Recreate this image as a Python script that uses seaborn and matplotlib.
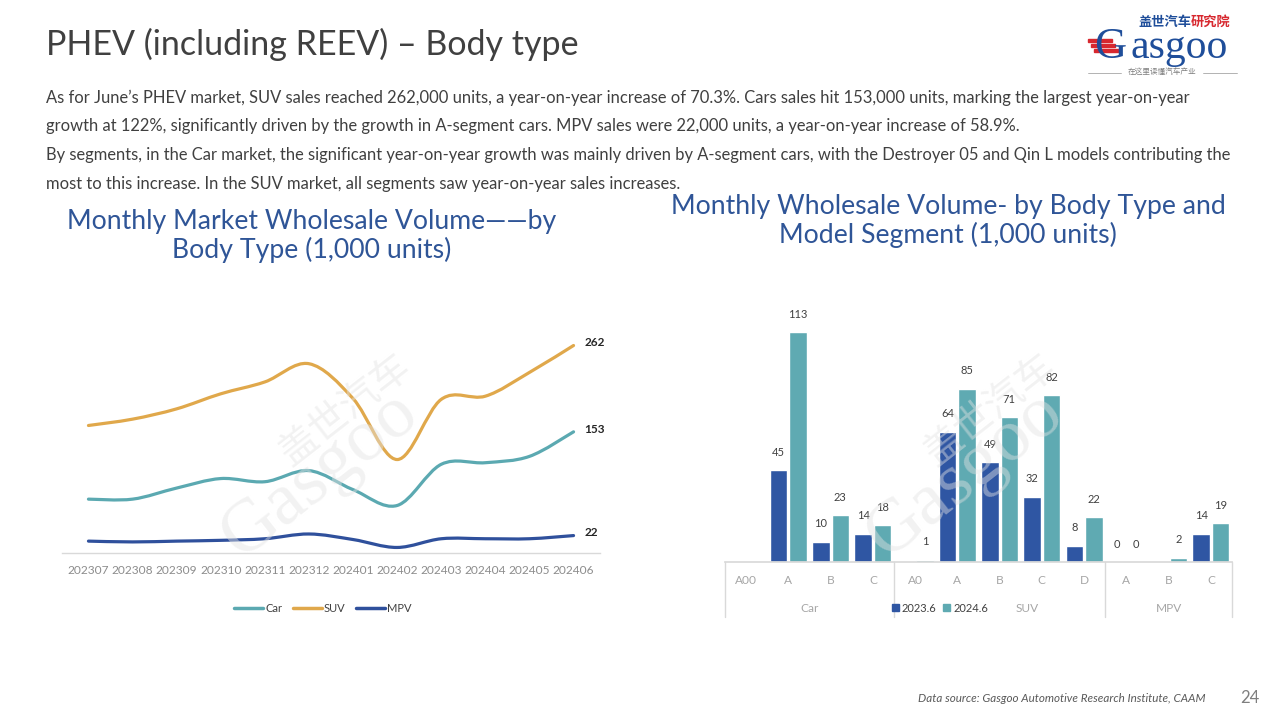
import numpy as np
import pandas as pd
import matplotlib
matplotlib.use("Agg")
import matplotlib.pyplot as plt
import seaborn as sns
from matplotlib.path import Path
from matplotlib.patches import PathPatch, Rectangle
from matplotlib.lines import Line2D
import matplotlib.transforms as mtransforms

# ---- data ----
months = ["202307", "202308", "202309", "202310", "202311", "202312",
          "202401", "202402", "202403", "202404", "202405", "202406"]
car = [68, 68, 82, 94, 90, 104, 80, 60, 112, 114, 122, 153]
suv = [161, 169, 182, 201, 216, 239, 195, 118, 194, 198, 228, 262]
mpv = [15, 14, 15, 16, 18, 24, 17, 7, 18, 18, 18, 22]

body_types = ["Car", "Car", "Car", "Car", "SUV", "SUV", "SUV", "SUV", "SUV", "MPV", "MPV", "MPV"]
segments = ["A00", "A", "B", "C", "A0", "A", "B", "C", "D", "A", "B", "C"]
vol_2023 = [np.nan, 45, 10, 14, np.nan, 64, 49, 32, 8, 0, np.nan, 14]
vol_2024 = [np.nan, 113, 23, 18, 1, 85, 71, 82, 22, 0, 2, 19]

C_TEAL = "#5BA9B1"
C_GOLD = "#E0A84B"
C_NAVY = "#2F509C"
C_BAR1 = "#2F56A3"
C_BAR2 = "#5FAAB2"
C_TITLE = "#2F5597"
FONT = "Lato"

sns.set_theme(style="white")
plt.rcParams["font.family"] = [FONT, "Noto Sans CJK SC", "DejaVu Sans"]

fig = plt.figure(figsize=(12.8, 7.2), dpi=100)
W, H = 1280, 720


def fx(px):
    return px / W


def fy(py):
    return 1 - py / H


# ---- page text ----
fig.text(fx(46), fy(44), "PHEV (including REEV) – Body type", fontsize=24.5,
         color="#404040", va="center", ha="left")
para = [
    "As for June’s PHEV market, SUV sales reached 262,000 units, a year-on-year increase of 70.3%. Cars sales hit 153,000 units, marking the largest year-on-year",
    "growth at 122%, significantly driven by the growth in A-segment cars. MPV sales were 22,000 units, a year-on-year increase of 58.9%.",
    "By segments, in the Car market, the significant year-on-year growth was mainly driven by A-segment cars, with the Destroyer 05 and Qin L models contributing the",
    "most to this increase. In the SUV market, all segments saw year-on-year sales increases.",
]
for i, line in enumerate(para):
    fig.text(fx(46), fy(98 + i * 28.5), line, fontsize=11.9, color="#404040",
             va="center", ha="left")

fig.text(fx(312), fy(236), "Monthly Market Wholesale Volume——by\nBody Type (1,000 units)",
         fontsize=19.2, color=C_TITLE, ha="center", va="center", linespacing=1.12)
fig.text(fx(948), fy(221), "Monthly Wholesale Volume- by Body Type and\nModel Segment (1,000 units)",
         fontsize=19.2, color=C_TITLE, ha="center", va="center", linespacing=1.12)

fig.text(fx(1205), fy(698), "Data source: Gasgoo Automotive Research Institute, CAAM",
         fontsize=8.35, style="italic", color="#595959", ha="right", va="center")
fig.text(fx(1250), fy(698), "24", fontsize=12, color="#7f7f7f", ha="center", va="center")

# logo
fig.text(fx(1138), fy(22), "盖世汽车", fontsize=9.5, color="#1F4E9A", weight="bold",
         family=["Noto Sans CJK SC"], ha="left", va="center")
fig.text(fx(1191), fy(22), "研究院", fontsize=9.5, color="#D7282F", weight="bold",
         family=["Noto Sans CJK SC"], ha="left", va="center")
for k in range(3):
    fig.patches.append(Rectangle((fx(1088 + k * 3), fy(42 + k * 5)), fx(24), 3 / H,
                                 transform=fig.transFigure, color="#D7282F"))
fig.text(fx(1094), fy(58), "G", fontsize=32, color="#1F4E9A",
         family=["Liberation Serif"], ha="left", va="baseline")
fig.text(fx(1130), fy(58), "asgoo", fontsize=30, color="#1F4E9A",
         family=["Liberation Serif"], ha="left", va="baseline")
fig.text(fx(1162), fy(73), "在这里读懂汽车产业", fontsize=5.5, color="#7f7f7f",
         family=["Noto Sans CJK SC"], ha="center", va="center")
fig.lines.append(Line2D([fx(1088), fx(1121)], [fy(73)] * 2, transform=fig.transFigure,
                        color="#a6a6a6", lw=0.6))
fig.lines.append(Line2D([fx(1203), fx(1237)], [fy(73)] * 2, transform=fig.transFigure,
                        color="#a6a6a6", lw=0.6))

# ---- left: line chart ----
ax1 = fig.add_axes([fx(62), fy(553), fx(600 - 62), 237.6 / H])
ax1.patch.set_alpha(0)
x = np.arange(len(months))
series = [("Car", car, C_TEAL), ("SUV", suv, C_GOLD), ("MPV", mpv, C_NAVY)]


def smooth_path(xs, ys):
    # Excel-style smoothed line through the data points
    pts = np.column_stack([xs, ys]).astype(float)
    n = len(pts)
    verts = [pts[0]]
    codes = [Path.MOVETO]
    for i in range(n - 1):
        p0 = pts[max(i - 1, 0)]
        p1 = pts[i]
        p2 = pts[i + 1]
        p3 = pts[min(i + 2, n - 1)]
        c1 = p1 + (p2 - p0) / 6
        c2 = p2 - (p3 - p1) / 6
        verts += [c1, c2, p2]
        codes += [Path.CURVE4] * 3
    return Path(verts, codes)


for name, vals, col in series:
    ax1.add_patch(PathPatch(smooth_path(x, vals), facecolor="none", edgecolor=col,
                            lw=2.3, capstyle="round", joinstyle="round"))
    ax1.annotate(str(vals[-1]), (x[-1], vals[-1]), xytext=(8, 2), textcoords="offset points",
                 fontsize=8.5, weight="bold", color="#262626", ha="left", va="center")

ax1.set_xlim(-0.6, 11.6)
ax1.set_ylim(0, 300)
ax1.set_xticks(x, months)
ax1.set_yticks([])
ax1.tick_params(axis="x", length=0, pad=9, labelsize=8.6, labelcolor="#8c8c8c")
sns.despine(ax=ax1, left=True)
ax1.spines["bottom"].set_color("#d9d9d9")
ax1.spines["bottom"].set_linewidth(1)

handles = [Line2D([], [], color=c, lw=2.5) for _, _, c in series]
fig.legend(handles, [s[0] for s in series], loc="center", bbox_to_anchor=(fx(323), fy(608)),
           ncol=3, frameon=False, fontsize=8, handlelength=2.6, handletextpad=0.15,
           columnspacing=1.0, labelcolor="#404040")

# ---- right: grouped bars ----
slots = [f"{b}|{s}" for b, s in zip(body_types, segments)]
df = pd.DataFrame({
    "slot": slots * 2,
    "year": ["2023.6"] * len(slots) + ["2024.6"] * len(slots),
    "value": vol_2023 + vol_2024,
})
ax2 = fig.add_axes([fx(725), fy(562), fx(1232 - 725), 264.6 / H])
ax2.patch.set_alpha(0)
sns.barplot(data=df.dropna(), x="slot", y="value", hue="year", order=slots,
            hue_order=["2023.6", "2024.6"], palette=[C_BAR1, C_BAR2],
            width=0.92, gap=0.1, ax=ax2, legend=False, saturation=1)
for cont in ax2.containers:
    ax2.bar_label(cont, fmt="%d", padding=9, fontsize=8, color="#404040")
ax2.set_xlim(-0.5, 11.5)
ax2.set_ylim(0, 130)
ax2.set_xlabel("")
ax2.set_ylabel("")
ax2.set_yticks([])
ax2.set_xticks(range(len(slots)), segments)
ax2.tick_params(axis="x", length=0, pad=9, labelsize=8.6, labelcolor="#a6a6a6")
sns.despine(ax=ax2, left=True)
ax2.spines["bottom"].set_color("#d9d9d9")

trans = mtransforms.blended_transform_factory(ax2.transData, ax2.transAxes)
for xb in [-0.5, 3.5, 8.5, 11.5]:
    ax2.plot([xb, xb], [0, -0.208], transform=trans, color="#d9d9d9", lw=1, clip_on=False)
for lab, xc in [("Car", 1.5), ("SUV", 6.65), ("MPV", 10.0)]:
    ax2.text(xc, -0.174, lab, transform=trans, fontsize=8.6, color="#a6a6a6",
             ha="center", va="center")

bar_handles = [Rectangle((0, 0), 1, 1, color=C_BAR1), Rectangle((0, 0), 1, 1, color=C_BAR2)]
fig.legend(bar_handles, ["2023.6", "2024.6"], loc="center", bbox_to_anchor=(fx(940), fy(608)),
           ncol=2, frameon=False, fontsize=8, handlelength=0.6, handleheight=0.6,
           handletextpad=0.3, columnspacing=0.6, labelcolor="#404040")

# faint watermarks, drawn over the charts like the original
for cx, cy in [(320, 455), (965, 455)]:
    fig.text(fx(cx + 25), fy(cy - 45), "盖世汽车", fontsize=28, color="#e3e3e3", alpha=0.45,
             family=["Noto Sans CJK SC"], rotation=38, ha="center", va="center")
    fig.text(fx(cx), fy(cy + 20), "Gasgoo", fontsize=54, color="#e3e3e3", alpha=0.45,
             family=["Liberation Serif"], rotation=38, ha="center", va="center")

fig.savefig("out.png", dpi=100)
